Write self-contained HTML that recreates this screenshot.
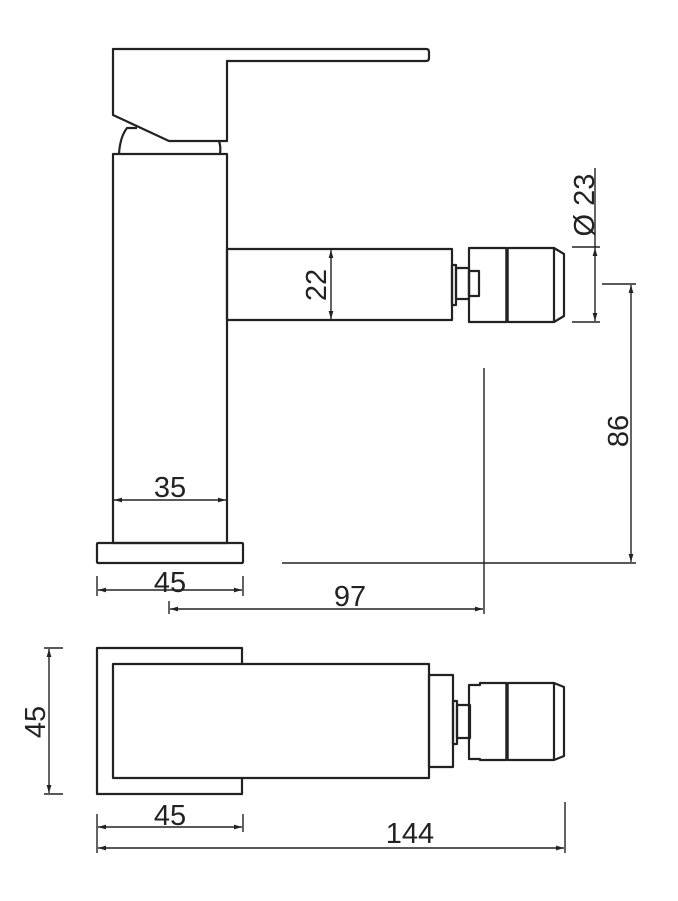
<!DOCTYPE html>
<html><head><meta charset="utf-8"><style>html,body{margin:0;padding:0;background:#fff}svg{display:block}</style></head><body>
<svg width="678" height="901" viewBox="0 0 678 901" xmlns="http://www.w3.org/2000/svg">
<defs>
<marker id="a" viewBox="0 0 10 6" refX="10" refY="3" markerWidth="8" markerHeight="5" orient="auto-start-reverse" markerUnits="userSpaceOnUse"><path d="M0,0 L10,3 L0,6 Z" fill="#222"/></marker>
</defs>
<g fill="none" stroke="#222" stroke-width="2.2" stroke-linejoin="round">
<path d="M113,49 L426,49 Q429,49 429,52 L429,58 Q429,61 426,61 L227,61 L227,141 L169,141 L113,115 Z"/>
<path d="M119,154 Q120,137 127,128 L137,128"/>
<path d="M219,141 Q221,147 220,154"/>
<rect x="113" y="154" width="114" height="389"/>
<rect x="97" y="543" width="146" height="20" rx="1"/>
<rect x="227" y="249" width="225" height="71"/>
<rect x="452" y="265" width="4" height="40"/>
<rect x="456" y="268" width="13" height="31"/>
<rect x="469" y="271" width="10" height="25"/>
<rect x="469" y="248" width="38" height="74"/>
<line x1="507" y1="248" x2="507" y2="322" stroke-width="3.5"/>
<path d="M508,248 L554,248 L564,254 L564,316 L554,322 L508,322"/>
<line x1="554" y1="248" x2="554" y2="322"/>
<path d="M242,664 L242,648 L97,648 L97,794 L242,794 L242,778"/>
<rect x="113" y="664" width="316" height="114"/>
<rect x="429" y="675" width="24" height="92"/>
<rect x="453" y="701" width="4" height="43"/>
<rect x="457" y="705" width="13" height="33"/>
<path d="M469,685 L469,759 L480,759 L480,760 L507,760 L507,683 L480,683 L480,685 Z"/>
<line x1="507" y1="683" x2="507" y2="760" stroke-width="3.5"/>
<path d="M508,683 L554,683 L564,687 L564,756 L554,760 L508,760"/>
<line x1="554" y1="683" x2="554" y2="760"/>
</g>
<g fill="none" stroke="#222" stroke-width="1.4">
<line x1="331" y1="250" x2="331" y2="319" marker-start="url(#a)" marker-end="url(#a)"/>
<line x1="114" y1="500" x2="226" y2="500" marker-start="url(#a)" marker-end="url(#a)"/>
<line x1="97" y1="576" x2="97" y2="596"/><line x1="243" y1="576" x2="243" y2="596"/>
<line x1="98" y1="590" x2="242" y2="590" marker-start="url(#a)" marker-end="url(#a)"/>
<line x1="169" y1="601" x2="169" y2="614"/>
<line x1="484" y1="368" x2="484" y2="614"/>
<line x1="170" y1="609" x2="483" y2="609" marker-start="url(#a)" marker-end="url(#a)"/>
<line x1="282" y1="563" x2="636" y2="563"/>
<line x1="602" y1="284" x2="636" y2="284"/>
<line x1="631" y1="285" x2="631" y2="562" marker-start="url(#a)" marker-end="url(#a)"/>
<line x1="595" y1="168" x2="595" y2="248"/>
<line x1="572" y1="247" x2="600" y2="247"/>
<line x1="572" y1="322" x2="600" y2="322"/>
<line x1="595" y1="248" x2="595" y2="321" marker-start="url(#a)" marker-end="url(#a)"/>
<line x1="44" y1="648" x2="63" y2="648"/><line x1="44" y1="794" x2="63" y2="794"/>
<line x1="49" y1="649" x2="49" y2="793" marker-start="url(#a)" marker-end="url(#a)"/>
<line x1="97" y1="814" x2="97" y2="853"/><line x1="243" y1="814" x2="243" y2="832"/>
<line x1="98" y1="827" x2="242" y2="827" marker-start="url(#a)" marker-end="url(#a)"/>
<line x1="565" y1="802" x2="565" y2="853"/>
<line x1="98" y1="848" x2="564" y2="848" marker-start="url(#a)" marker-end="url(#a)"/>
</g>
<g font-family="Liberation Sans, sans-serif" font-size="29" fill="#222" text-anchor="middle">
<text x="170" y="497">35</text>
<text x="170" y="592">45</text>
<text x="350" y="606">97</text>
<text x="170" y="825">45</text>
<text x="410" y="843">144</text>
<text transform="translate(326,285) rotate(-90)">22</text>
<text transform="translate(628,431) rotate(-90)">86</text>
<text transform="translate(594,205) rotate(-90)">Ø 23</text>
<text transform="translate(45,722) rotate(-90)">45</text>
</g>
</svg>
</body></html>
